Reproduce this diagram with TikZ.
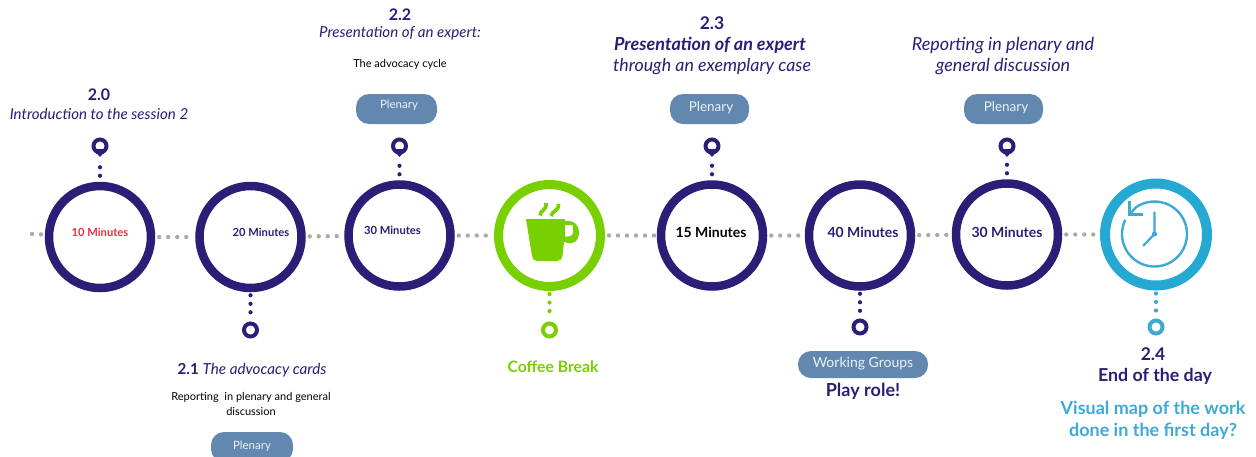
\documentclass[tikz,border=0pt]{standalone}
\usepackage{fontspec}
\setmainfont{Lato}
\definecolor{navyc}{HTML}{2B1E76}
\definecolor{greenc}{HTML}{78D000}
\definecolor{bluec}{HTML}{25A9D3}
\definecolor{lblue}{HTML}{3FA9D6}
\definecolor{pillc}{HTML}{6388B0}
\definecolor{redc}{HTML}{EC2F3C}
\definecolor{greyc}{HTML}{ABABAB}
\newcommand{\fs}[1]{\fontsize{#1}{#1}\selectfont}
\tikzset{
    ringnode/.style={circle,draw=#1,line width=8.5pt,minimum size=102pt,inner sep=0pt},
    pinnode/.style={circle,draw=#1,line width=4pt,minimum size=13pt,inner sep=0pt},
    pillnode/.style={rounded corners=13pt,fill=pillc,minimum height=#1,inner sep=0pt},
    greydots/.style={greyc,line width=4.4pt,line cap=round,dash pattern=on 0pt off 9pt,shorten <=4pt,shorten >=1pt},
    pindots/.style={#1,line width=4.2pt,line cap=round,dash pattern=on 0pt off 8.5pt,shorten <=3pt,shorten >=3pt},
    txt/.style={align=center,inner sep=0pt,text=#1}
}

\begin{document}
\begin{tikzpicture}[x=1pt,y=-1pt]
    \clip (0,0) rectangle (1256,456);
    % rings
    \node[ringnode=navyc] (r0) at (100,237) {};
    \node[ringnode=navyc] (r1) at (250.5,237) {};
    \node[ringnode=navyc] (r2) at (399.5,235.5) {};
    \node[ringnode=greenc,line width=9pt] (rc) at (549.5,235.5) {};
    \node[ringnode=navyc] (r3) at (712,235.5) {};
    \node[ringnode=navyc] (r4) at (860,235.5) {};
    \node[ringnode=navyc] (r5) at (1007,234.5) {};
    \node[ringnode=bluec,line width=10pt] (r6) at (1156,234.5) {};
    % grey line
    \coordinate (lstart) at (32,234);
    \draw[greydots,shorten <=0pt] (lstart) -- (r0);
    \draw[greydots] (r0) -- (r1);
    \draw[greydots] (r1) -- (r2);
    \draw[greydots] (r2) -- (rc);
    \draw[greydots] (rc) -- (r3);
    \draw[greydots] (r3) -- (r4);
    \draw[greydots] (r4) -- (r5);
    \draw[greydots] (r5) -- (r6);
    % pins
    \node[pinnode=navyc] (p0) at (100,146) {};
    \node[pinnode=navyc] (p1) at (250.5,330) {};
    \node[pinnode=navyc] (p2) at (399.5,146) {};
    \node[pinnode=greenc] (pc) at (549.5,330) {};
    \node[pinnode=navyc] (p3) at (712,146) {};
    \node[pinnode=navyc] (p4) at (860,327) {};
    \node[pinnode=navyc] (p5) at (1007,146) {};
    \node[pinnode=lblue] (p6) at (1156,327) {};
    \fill[navyc] ([xshift=-7pt,yshift=-3pt]p0.center) -- ([yshift=-11pt]p0.center) -- ([xshift=7pt,yshift=-3pt]p0.center) -- cycle;
    \fill[navyc] ([xshift=-7pt,yshift=-3pt]p2.center) -- ([yshift=-11pt]p2.center) -- ([xshift=7pt,yshift=-3pt]p2.center) -- cycle;
    \fill[navyc] ([xshift=-7pt,yshift=-3pt]p3.center) -- ([yshift=-11pt]p3.center) -- ([xshift=7pt,yshift=-3pt]p3.center) -- cycle;
    \fill[navyc] ([xshift=-7pt,yshift=-3pt]p5.center) -- ([yshift=-11pt]p5.center) -- ([xshift=7pt,yshift=-3pt]p5.center) -- cycle;
    \draw[pindots=navyc,shorten <=6pt,shorten >=8pt] (r0) -- (p0);
    \draw[pindots=navyc] (r1) -- (p1);
    \draw[pindots=navyc,shorten <=6pt,shorten >=8pt] (r2) -- (p2);
    \draw[pindots=greenc] (rc) -- (pc);
    \draw[pindots=navyc,shorten <=6pt,shorten >=8pt] (r3) -- (p3);
    \draw[pindots=navyc] (r4) -- (p4);
    \draw[pindots=navyc,shorten <=6pt,shorten >=8pt] (r5) -- (p5);
    \draw[pindots=lblue] (r6) -- (p6);
    % minutes
    \node[txt=redc,font=\fs{11.2}\bfseries] (m0) at (100,232) {10 Minutes};
    \node[txt=navyc,font=\fs{11.2}\bfseries] (m1) at (261,232) {20 Minutes};
    \node[txt=navyc,font=\fs{11.2}\bfseries] (m2) at (392.5,230.5) {30 Minutes};
    \node[txt=black,font=\fs{14}\bfseries] (m3) at (711,232) {15 Minutes};
    \node[txt=navyc,font=\fs{14}\bfseries] (m4) at (863,232) {40 Minutes};
    \node[txt=navyc,font=\fs{14}\bfseries] (m5) at (1007,232) {30 Minutes};
    % mug
    \fill[greenc,even odd rule] (538,219) -- (565,219) -- (565,221) .. controls (575,220) and (579,226) .. (579,232) .. controls (579,241) and (573,246) .. (565,242) -- (564,242) -- (562.5,256) .. controls (562,259) and (560,261) .. (557,261) -- (537,261) .. controls (534,261) and (532.5,259) .. (532,256) -- (526,219) -- cycle
        (565,225) -- (572,225) .. controls (573,225) and (573,226) .. (573,228) -- (573,233) .. controls (573,236) and (568,237) .. (565,236.5) -- cycle;
    \draw[greenc,line width=3.6pt] (540,215.5) .. controls (540,210) and (547,211) .. (546,203);
    \draw[greenc,line width=3.6pt] (551,216) .. controls (552,210.5) and (559,211.5) .. (558.5,204);
    % clock
    \coordinate (ck) at (1154.5,234);
    \draw[lblue,line width=2.4pt] (ck) ++(-154:32.5) arc[start angle=-154,end angle=-485,radius=32.5] -- (1129.5,214.5);
    \draw[lblue,line width=2.6pt] (1129.5,201) -- (1129.5,214.5) -- (1143,214.5);
    \draw[lblue,line width=2.2pt,line cap=round] (1154.5,212.5) -- (ck) -- (1143.5,245.5);
    \fill[lblue] (ck) circle (2.6pt);
    % pills
    \node[pillnode=30pt,minimum width=81pt] (b2) at (396.5,109) {};
    \node[txt=white!88!pillc,font=\fs{11.5}] (bt2) at (399,105.5) {Plenary};
    \node[pillnode=30pt,minimum width=82pt] (b1) at (252,447) {};
    \node[txt=white!88!pillc,font=\fs{11.5}] (bt1) at (252,446.5) {Plenary};
    \node[pillnode=30pt,minimum width=79pt] (b3) at (709.5,109) {};
    \node[txt=white!88!pillc,font=\fs{13.5}] (bt3) at (711,108) {Plenary};
    \node[pillnode=30pt,minimum width=79pt] (b5) at (1003.5,109) {};
    \node[txt=white!88!pillc,font=\fs{13.5}] (bt5) at (1006,108) {Plenary};
    \node[pillnode=27pt,minimum width=130pt] (b4) at (863,364.5) {};
    \node[txt=white!88!pillc,font=\fs{14}] (bt4) at (863,363.5) {Working Groups};
    % labels
    \node[txt=navyc,font=\fs{16}\bfseries] (l0a) at (99,94.5) {2.0};
    \node[txt=navyc,font=\fs{15.1}\itshape] (l0b) at (99,113.5) {Introduction to the session 2};
    \node[txt=navyc,font=\fs{15.2}] (l1a) at (252,370) {\textbf{2.1} \textit{The advocacy cards}};
    \node[txt=black,font=\fs{11}] (l1b) at (251,397.5) {Reporting\ \ in plenary and general};
    \node[txt=black,font=\fs{11}] (l1c) at (251,411.5) {discussion};
    \node[txt=navyc,font=\fs{16}\bfseries] (l2a) at (400,14.5) {2.2};
    \node[txt=navyc,font=\fs{15.1}\itshape] (l2b) at (400,33.5) {Presentation of an expert:};
    \node[txt=black,font=\fs{11}] (l2c) at (400,64) {The advocacy cycle};
    \node[txt=greenc,font=\fs{15.7}\bfseries] (lc) at (553,366.5) {Coffee Break};
    \node[txt=navyc,font=\fs{17.5}\bfseries] (l3a) at (712,23.5) {2.3};
    \node[txt=navyc,font=\fs{18}\bfseries\itshape] (l3b) at (710,45.5) {Presentation of an expert};
    \node[txt=navyc,font=\fs{17.8}\itshape] (l3c) at (712,66.5) {through an exemplary case};
    \node[txt=navyc,font=\fs{18}\bfseries] (l4) at (863,391) {Play role!};
    \node[txt=navyc,font=\fs{18}\itshape] (l5a) at (1003,45.5) {Reporting in plenary and};
    \node[txt=navyc,font=\fs{18}\itshape] (l5b) at (1003,66.5) {general discussion};
    \node[txt=navyc,font=\fs{17.5}\bfseries] (l6a) at (1153,354.5) {2.4};
    \node[txt=navyc,font=\fs{17.8}\bfseries] (l6b) at (1155,376) {End of the day};
    \node[txt=lblue,font=\fs{18}\bfseries] (l6c) at (1153,409.5) {Visual map of the work};
    \node[txt=lblue,font=\fs{18}\bfseries] (l6d) at (1153,431.5) {done in the first day?};
\end{tikzpicture}
\end{document}
